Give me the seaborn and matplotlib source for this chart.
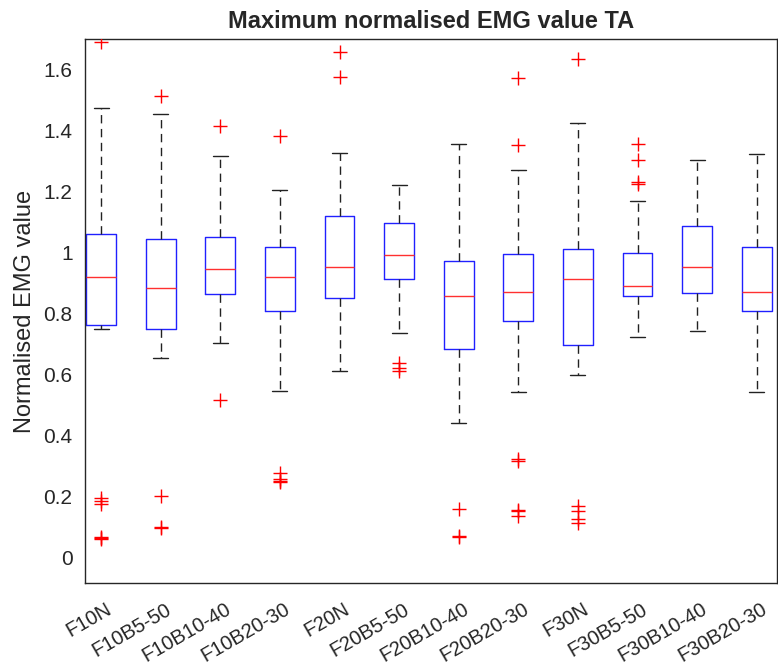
import pandas as pd
import seaborn as sns
import matplotlib.pyplot as plt
import matplotlib.transforms as mtransforms
from matplotlib.ticker import FuncFormatter

# Box summary values (normalised EMG, TA)
categories = ['F10N', 'F10B5-50', 'F10B10-40', 'F10B20-30',
              'F20N', 'F20B5-50', 'F20B10-40', 'F20B20-30',
              'F30N', 'F30B5-50', 'F30B10-40', 'F30B20-30']
whisker_lo = [0.750, 0.653, 0.702, 0.546, 0.612, 0.735, 0.441, 0.542, 0.598, 0.722, 0.742, 0.542]
q1 = [0.760, 0.750, 0.862, 0.806, 0.850, 0.913, 0.682, 0.776, 0.696, 0.858, 0.866, 0.806]
medians = [0.918, 0.884, 0.947, 0.918, 0.952, 0.990, 0.858, 0.871, 0.914, 0.888, 0.952, 0.871]
q3 = [1.061, 1.045, 1.049, 1.019, 1.118, 1.096, 0.970, 0.994, 1.012, 0.998, 1.087, 1.016]
whisker_hi = [1.472, 1.454, 1.315, 1.206, 1.326, 1.220, 1.356, 1.271, 1.425, 1.169, 1.304, 1.322]
outliers = [
    [1.69, 0.193, 0.184, 0.174, 0.058, 0.062, 0.065],
    [1.512, 0.200, 0.095, 0.100],
    [1.414, 0.516],
    [1.381, 0.275, 0.245, 0.250, 0.255],
    [1.658, 1.576],
    [0.637, 0.622, 0.612],
    [0.159, 0.065, 0.069],
    [1.573, 1.353, 0.317, 0.322, 0.155, 0.151, 0.136],
    [1.633, 0.168, 0.151, 0.125, 0.111],
    [1.357, 1.304, 1.225, 1.230],
    [],
    [],
]

# long tables for seaborn
rows = []
for i, cat in enumerate(categories):
    for v in [whisker_lo[i], q1[i], medians[i], q3[i], whisker_hi[i]]:
        rows.append({'condition': cat, 'value': v})
box_df = pd.DataFrame(rows)
out_df = pd.DataFrame([{'condition': cat, 'value': v}
                       for cat, vals in zip(categories, outliers) for v in vals])

sns.set_style('white')
plt.rcParams['font.family'] = ['Liberation Sans', 'DejaVu Sans']

fig = plt.figure(figsize=(7.78, 6.68), dpi=100)
ax = fig.add_axes([0.1093, 0.1272, 0.8894, 0.8144])

sns.boxplot(data=box_df, x='condition', y='value', order=categories,
            whis=(0, 100), width=0.5, fill=False, showfliers=False, linewidth=1,
            boxprops=dict(color='#2020ff'),
            medianprops=dict(color='#ff3030'),
            whiskerprops=dict(color='#222222', linestyle=(0, (6, 4))),
            capprops=dict(color='#222222'),
            ax=ax)
sns.stripplot(data=out_df, x='condition', y='value', order=categories,
              jitter=False, marker='+', color='red', edgecolor='red',
              size=10, linewidth=1, ax=ax)

ax.set_xlim(-0.27, 11.34)
ax.set_ylim(-0.085, 1.70)
ax.set_yticks([0, 0.2, 0.4, 0.6, 0.8, 1.0, 1.2, 1.4, 1.6])
ax.yaxis.set_major_formatter(FuncFormatter(lambda v, p: '%g' % round(v, 2)))
ax.tick_params(axis='both', length=0, labelsize=15, labelcolor='#262626')
ax.tick_params(axis='y', pad=9)
ax.tick_params(axis='x', pad=12, labelsize=14.5)

ax.set_xlabel('')
ax.set_ylabel('Normalised EMG value', fontsize=17, color='#262626', labelpad=5)
ax.set_title('Maximum normalised EMG value TA', fontsize=17, fontweight='bold', pad=8)

shift = mtransforms.ScaledTranslation(4 / 100, 0, fig.dpi_scale_trans)
for lab in ax.get_xticklabels():
    lab.set_rotation(30)
    lab.set_ha('right')
    lab.set_va('top')
    lab.set_rotation_mode('anchor')
    lab.set_transform(lab.get_transform() + shift)

for sp in ax.spines.values():
    sp.set_visible(True)
    sp.set_color('#262626')
    sp.set_linewidth(1)

plt.savefig('out.png', dpi=100)
